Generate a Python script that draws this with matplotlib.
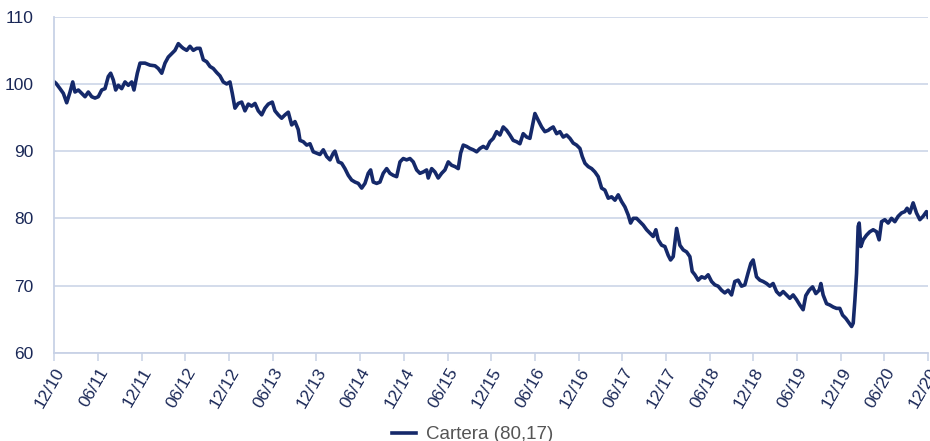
import matplotlib
matplotlib.use("Agg")
import matplotlib.pyplot as plt
import numpy as np

plt.rcParams['font.family'] = ['Liberation Sans', 'DejaVu Sans']

# months since 12/2010 and index level
months = [0.0, 0.23, 0.78, 1.24, 1.70, 2.16, 2.53, 2.84, 3.30, 3.76, 4.22, 4.67, 5.14, 5.59,
          6.04, 6.51, 6.96, 7.41, 7.74, 8.10, 8.43, 8.79, 9.25, 9.71, 10.16, 10.63, 10.94,
          11.40, 11.77, 12.45, 13.14, 13.83, 14.28, 14.75, 15.20, 15.65, 16.12, 16.57, 17.03,
          17.49, 17.71, 18.18, 18.63, 19.09, 19.55, 20.01, 20.46, 20.93, 21.38, 21.83, 22.30,
          22.75, 23.20, 23.67, 24.12, 24.44, 24.81, 25.26, 25.73, 26.18, 26.64, 27.10, 27.56,
          28.01, 28.48, 28.93, 29.38, 29.93, 30.30, 30.76, 31.22, 31.68, 32.13, 32.60, 33.05,
          33.50, 33.74, 34.19, 34.66, 35.11, 35.56, 36.03, 36.48, 36.94, 37.40, 37.86, 38.31,
          38.54, 39.00, 39.46, 39.91, 40.37, 40.83, 41.29, 41.74, 42.21, 42.66, 43.11, 43.44,
          43.80, 44.27, 44.72, 45.17, 45.64, 46.09, 46.55, 47.01, 47.47, 47.92, 48.38, 48.84,
          49.29, 49.76, 50.21, 50.66, 51.13, 51.35, 51.82, 52.27, 52.72, 53.19, 53.64, 54.10,
          54.56, 55.02, 55.47, 55.80, 56.16, 56.62, 57.08, 57.53, 58.00, 58.45, 58.90, 59.37,
          59.82, 60.28, 60.74, 61.20, 61.65, 62.12, 62.57, 63.02, 63.49, 63.94, 64.39, 64.86,
          65.31, 65.63, 66.00, 66.45, 66.92, 67.37, 67.83, 68.06, 68.51, 68.98, 69.43, 69.89,
          70.35, 70.81, 71.26, 71.72, 72.18, 72.50, 72.87, 73.32, 73.79, 74.24, 74.69, 75.16,
          75.61, 76.07, 76.53, 76.99, 77.44, 77.90, 78.36, 78.81, 79.14, 79.50, 79.96, 80.41,
          80.87, 81.34, 81.79, 82.24, 82.61, 82.93, 83.40, 83.85, 84.30, 84.63, 84.99, 85.46,
          85.91, 86.37, 86.83, 87.28, 87.60, 87.97, 88.42, 88.89, 89.34, 89.79, 90.26, 90.71,
          91.16, 91.63, 92.08, 92.53, 93.00, 93.45, 93.91, 94.37, 94.83, 95.28, 95.65, 95.97,
          96.43, 96.89, 97.34, 97.81, 98.26, 98.71, 99.18, 99.63, 100.09, 100.55, 101.01,
          101.46, 101.93, 102.38, 102.83, 103.20, 103.66, 104.13, 104.58, 105.03, 105.27,
          105.58, 106.05, 106.50, 106.96, 107.42, 107.87, 108.25, 108.70, 109.16, 109.49,
          109.71, 109.94, 110.17, 110.39, 110.53, 110.76, 111.08, 111.54, 111.99, 112.45,
          112.92, 113.27, 113.60, 114.05, 114.51, 114.97, 115.43, 115.88, 116.35, 116.80,
          117.11, 117.48, 117.94, 118.40, 118.86, 119.31, 119.77, 120.0]

cartera = [100.3, 100.1, 99.3, 98.6, 97.2, 98.8, 100.3, 98.8, 99.1, 98.6, 98.1, 98.8, 98.1, 97.9,
           98.1, 99.1, 99.3, 101.1, 101.6, 100.6, 99.1, 99.8, 99.3, 100.3, 99.8, 100.3, 99.1,
           101.6, 103.1, 103.1, 102.8, 102.7, 102.3, 101.6, 103.1, 104.0, 104.5, 105.0, 106.0,
           105.5, 105.3, 105.0, 105.6, 105.0, 105.3, 105.3, 103.6, 103.3, 102.6, 102.3, 101.7,
           101.2, 100.3, 100.0, 100.3, 98.6, 96.4, 97.1, 97.3, 96.0, 97.0, 96.7, 97.1,
           96.0, 95.4, 96.4, 97.0, 97.3, 96.0, 95.4, 94.9, 95.4, 95.8, 93.9, 94.4,
           93.2, 91.6, 91.4, 90.9, 91.1, 89.9, 89.7, 89.5, 90.2, 89.2, 88.7, 89.7,
           90.0, 88.4, 88.2, 87.4, 86.4, 85.7, 85.4, 85.2, 84.5, 85.2, 86.7, 87.2,
           85.4, 85.2, 85.4, 86.7, 87.4, 86.7, 86.4, 86.2, 88.4, 88.9, 88.7, 88.9,
           88.4, 87.2, 86.7, 86.9, 87.2, 86.0, 87.4, 86.9, 86.0, 86.7, 87.2, 88.4,
           87.9, 87.7, 87.4, 89.7, 90.9, 90.7, 90.4, 90.2, 89.9, 90.4, 90.7, 90.4,
           91.4, 91.9, 92.9, 92.4, 93.6, 93.1, 92.4, 91.6, 91.4, 91.1, 92.6, 92.1,
           91.9, 93.6, 95.6, 94.6, 93.6, 92.9, 93.1, 93.3, 93.6, 92.6, 92.9, 92.1,
           92.4, 91.9, 91.2, 90.9, 90.4, 89.2, 88.2, 87.7, 87.4, 86.9, 86.2, 84.5,
           84.2, 83.0, 83.2, 82.7, 83.5, 82.5, 81.7, 80.5, 79.3, 80.0, 80.0, 79.5,
           79.0, 78.3, 77.8, 77.3, 78.3, 76.8, 76.0, 75.8, 74.5, 73.8, 74.3, 78.5,
           76.0, 75.3, 75.0, 74.3, 72.1, 71.6, 70.8, 71.3, 71.1, 71.6, 70.6, 70.1,
           69.9, 69.3, 68.9, 69.3, 68.6, 70.6, 70.8, 69.9, 70.1, 71.9, 73.3, 73.8,
           71.3, 70.8, 70.6, 70.3, 69.9, 70.3, 69.1, 68.6, 69.1, 68.6, 68.1,
           68.6, 67.9, 67.1, 66.4, 68.5, 69.3, 69.8, 68.8, 69.3, 70.3,
           68.6, 67.3, 67.1, 66.8, 66.6, 66.6, 65.6, 65.1, 64.4, 63.9,
           64.4, 67.8, 71.8, 78.8, 79.3, 75.8, 76.8, 77.5, 78.0, 78.3,
           78.0, 76.8, 79.5, 79.8, 79.3, 80.0, 79.5, 80.3, 80.8, 81.0,
           81.5, 80.8, 82.3, 80.8, 79.8, 80.3, 81.0, 80.17]

tick_labels = ['12/10', '06/11', '12/11', '06/12', '12/12', '06/13', '12/13', '06/14',
               '12/14', '06/15', '12/15', '06/16', '12/16', '06/17', '12/17', '06/18',
               '12/18', '06/19', '12/19', '06/20', '12/20']

navy = '#15296a'
grid_c = '#c8d2e6'

fig = plt.figure(figsize=(9.3, 4.41), dpi=100)
ax = fig.add_axes([0.0584, 0.2002, 0.9396, 0.7618])

ax.plot(months, cartera, color=navy, lw=2.6, label='Cartera (80,17)', solid_joinstyle='round')

ax.set_xlim(0, 120)
ax.set_ylim(60, 110)
ax.set_yticks([60, 70, 80, 90, 100, 110])
ax.set_xticks(np.arange(0, 121, 6))
ax.set_xticklabels(tick_labels, rotation=60, ha='right', rotation_mode='anchor')

ax.grid(axis='y', color=grid_c, lw=1.1)
ax.set_axisbelow(True)
for s in ['top', 'right']:
    ax.spines[s].set_visible(False)
for s in ['left', 'bottom']:
    ax.spines[s].set_color(grid_c)
    ax.spines[s].set_linewidth(1.3)

ax.tick_params(axis='y', length=0, pad=15, labelsize=12.5, labelcolor='#1a2857')
ax.tick_params(axis='x', length=6, width=1.1, color=grid_c, pad=3, labelsize=12.5,
               labelcolor='#1a2857')

fig.legend(loc='center', bbox_to_anchor=(0.508, 0.014), frameon=False, fontsize=13.5,
           handlelength=1.3, handletextpad=0.5, labelcolor='#555555')

fig.savefig('out.png', dpi=100)
